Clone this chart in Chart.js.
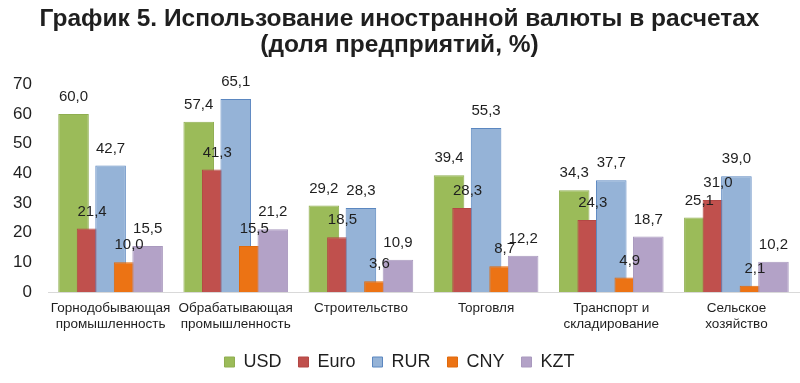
<!DOCTYPE html>
<html lang="ru">
<head>
<meta charset="utf-8">
<title>График 5</title>
<script src="https://cdn.jsdelivr.net/npm/chart.js@4/dist/chart.umd.min.js"></script>
<style>
  html, body { margin: 0; padding: 0; background: #fff; }
  #wrap { width: 800px; height: 383px; position: relative; }
</style>
</head>
<body>
<div id="wrap"><canvas id="chart"></canvas></div>
<script>
"use strict";

// Sectors (x axis), two-line labels where the original wraps.
const CATEGORIES = [
  ["Горнодобывающая", "промышленность"],
  ["Обрабатывающая", "промышленность"],
  "Строительство",
  "Торговля",
  ["Транспорт и", "складирование"],
  ["Сельское", "хозяйство"],
];

// Share of enterprises, %.
const USD = [60.0, 57.4, 29.2, 39.4, 34.3, 25.1];
const EURO = [21.4, 41.3, 18.5, 28.3, 24.3, 31.0];
const RUR = [42.7, 65.1, 28.3, 55.3, 37.7, 39.0];
const CNY = [10.0, 15.5, 3.6, 8.7, 4.9, 2.1];
const KZT = [15.5, 21.2, 10.9, 12.2, 18.7, 10.2];

const SERIES = [
  { label: "USD", data: USD, fill: "#9bbb59", line: "#8fae50" },
  { label: "Euro", data: EURO, fill: "#c0504d", line: "#b34744" },
  { label: "RUR", data: RUR, fill: "#95b3d7", line: "#5b87c0" },
  { label: "CNY", data: CNY, fill: "#ec7314", line: "#e06a0c" },
  { label: "KZT", data: KZT, fill: "#b3a2c7", line: "#a999be" },
];

const FONT = "'Liberation Sans', Arial, sans-serif";
const TEXT = "#1f1f1f";

// Excel draws overlapping bars left to right, so the right-hand bar sits on top.
// Chart.js does the opposite; draw the datasets ourselves in forward order.
const forwardOrder = {
  id: "forwardOrder",
  beforeDatasetsDraw(chart) {
    for (const meta of chart.getSortedVisibleDatasetMetas()) {
      meta.controller.draw();
    }
    return false;
  },
};

// Value labels above each bar, with a decimal comma.
const valueLabels = {
  id: "valueLabels",
  afterDraw(chart) {
    const ctx = chart.ctx;
    ctx.save();
    ctx.font = `15px ${FONT}`;
    ctx.fillStyle = TEXT;
    ctx.textAlign = "center";
    ctx.textBaseline = "middle";
    chart.data.datasets.forEach((ds, i) => {
      const meta = chart.getDatasetMeta(i);
      meta.data.forEach((bar, j) => {
        const text = ds.data[j].toFixed(1).replace(".", ",");
        ctx.fillText(text, bar.x, bar.y - 17);
      });
    });
    ctx.restore();
  },
};

new Chart(document.getElementById("chart"), {
  type: "bar",
  data: {
    labels: CATEGORIES,
    datasets: SERIES.map((s) => ({
      label: s.label,
      data: s.data,
      backgroundColor: s.fill,
      borderColor: s.line,
      borderWidth: 1,
      categoryPercentage: 0.74,
      barPercentage: 1.65,
    })),
  },
  options: {
    responsive: true,
    maintainAspectRatio: false,
    animation: false,
    layout: { padding: { left: 0, right: 1, top: 0, bottom: 2 } },
    plugins: {
      title: {
        display: true,
        text: ["График 5. Использование иностранной валюты в расчетах", "(доля предприятий, %)"],
        color: TEXT,
        font: { family: FONT, size: 24.5, weight: "bold", lineHeight: 1.07 },
        padding: { top: 6, bottom: 26 },
      },
      legend: {
        position: "bottom",
        labels: {
          color: TEXT,
          font: { family: FONT, size: 18 },
          boxWidth: 10,
          boxHeight: 10,
          padding: 17,
        },
      },
      tooltip: { enabled: false },
    },
    scales: {
      x: {
        grid: { display: false, drawTicks: false },
        border: { color: "#d9d9d9", width: 1 },
        afterFit(scale) {
          scale.height = 44;
        },
        ticks: {
          color: TEXT,
          font: { family: FONT, size: 13.5, lineHeight: 1.15 },
          padding: 9,
          maxRotation: 0,
          autoSkip: false,
        },
      },
      y: {
        min: 0,
        max: 70,
        grid: { display: false, drawTicks: false },
        border: { display: false },
        afterFit(scale) {
          scale.width = 48;
        },
        ticks: {
          stepSize: 10,
          color: TEXT,
          font: { family: FONT, size: 17 },
          padding: 16,
        },
      },
    },
  },
  plugins: [forwardOrder, valueLabels],
});
</script>
</body>
</html>
